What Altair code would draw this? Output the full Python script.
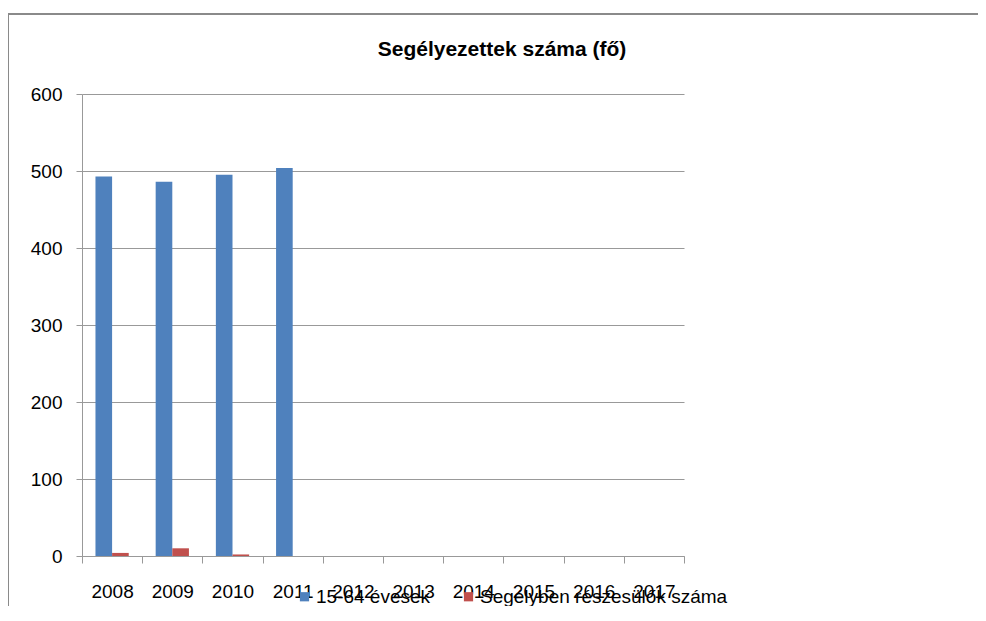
import altair as alt
import pandas as pd

years = ["2008", "2009", "2010", "2011", "2012", "2013", "2014", "2015", "2016", "2017"]
series_names = ["15-64 évesek", "Segélyben részesülők száma"]
working_age = [493, 486, 495, 504]
aided = [4, 10, 2]
colors = ["#4F81BD", "#C0504D"]

rows = []
for y, v in zip(years, working_age):
    rows.append({"year": y, "series": series_names[0], "value": v})
for y, v in zip(years, aided):
    rows.append({"year": y, "series": series_names[1], "value": v})
df = pd.DataFrame(rows)

FONT = "Liberation Sans"

bars = alt.Chart(df).mark_bar().encode(
    x=alt.X("year:N", scale=alt.Scale(domain=years, paddingInner=0, paddingOuter=0),
            axis=alt.Axis(title=None, labelAngle=0, tickBand="extent", grid=False,
                          labelFontSize=19, labelFont=FONT, labelColor="#000000",
                          labelPadding=19, tickSize=7, domainColor="#999999",
                          tickColor="#999999", labelBaseline="top")),
    xOffset=alt.XOffset("series:N", scale=alt.Scale(domain=series_names, paddingInner=0, paddingOuter=0.81)),
    y=alt.Y("value:Q", scale=alt.Scale(domain=[0, 600], nice=False),
            axis=alt.Axis(title=None, values=[0, 100, 200, 300, 400, 500, 600],
                          labelFontSize=19, labelFont=FONT, labelColor="#000000",
                          tickSize=6, labelPadding=14, gridColor="#999999",
                          domainColor="#999999", tickColor="#999999")),
    color=alt.Color("series:N", scale=alt.Scale(domain=series_names, range=colors),
                    legend=alt.Legend(title=None, orient="none", direction="horizontal",
                                      legendX=213, legendY=493, symbolType="square",
                                      symbolSize=85, symbolStrokeWidth=0,
                                      labelFontSize=19, labelFont=FONT, labelColor="#000000",
                                      labelLimit=0, labelOffset=2, columnPadding=28, padding=0)),
)

frame_top = alt.Chart(pd.DataFrame({"k": [0]})).mark_rule(color="#8a8a8a", strokeWidth=2).encode(
    x=alt.value(-75), x2=alt.value(896), y=alt.value(-80))
frame_left = alt.Chart(pd.DataFrame({"k": [0]})).mark_rule(color="#8a8a8a", strokeWidth=2).encode(
    x=alt.value(-74), y=alt.value(-80), y2=alt.value(520))

title = alt.Chart(pd.DataFrame({"t": ["Segélyezettek száma (fő)"]})).mark_text(
    font=FONT, fontSize=21, fontWeight="bold", color="#000000", align="center", baseline="middle"
).encode(x=alt.value(420), y=alt.value(-44), text="t:N")

chart = alt.layer(bars, frame_top, frame_left, title).properties(
    width=602, height=462,
    autosize=alt.AutoSizeParams(type="none"),
    padding={"left": 74, "top": 86, "right": 294, "bottom": 50},
).configure_view(stroke=None)

chart.save("out.html", embed_options={"renderer": "svg", "actions": False})
